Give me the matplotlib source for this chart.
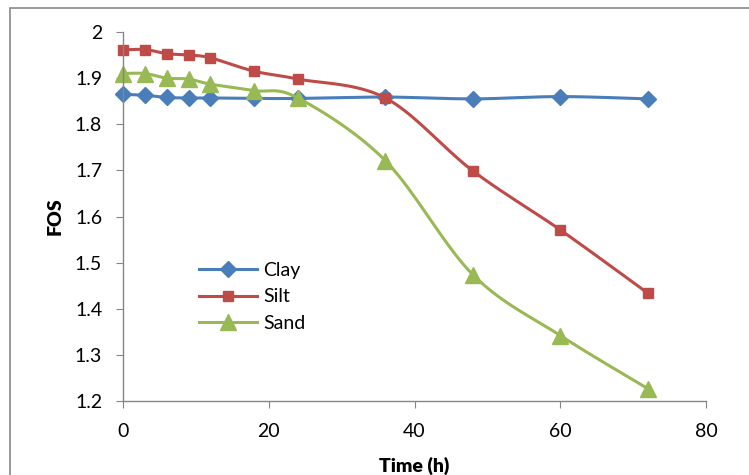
import numpy as np
import matplotlib.pyplot as plt
from matplotlib.patches import Rectangle

# FOS vs time
time_h = [0, 3, 6, 9, 12, 18, 24, 36, 48, 60, 72]
clay = [1.865, 1.863, 1.858, 1.857, 1.857, 1.856, 1.856, 1.859, 1.855, 1.860, 1.855]
silt = [1.961, 1.962, 1.953, 1.950, 1.944, 1.915, 1.898, 1.857, 1.699, 1.571, 1.434]
sand = [1.910, 1.910, 1.900, 1.898, 1.887, 1.873, 1.857, 1.721, 1.474, 1.342, 1.227]

plt.rcParams['font.family'] = ['Lato', 'DejaVu Sans']

XLIM = (0, 80)
YLIM = (1.2, 2.0)


def smooth(x, y, n=20):
    # excel-like smoothed line: catmull-rom in axis-normalised space
    sx = (XLIM[1] - XLIM[0]) / 583.0
    sy = (YLIM[1] - YLIM[0]) / 369.0
    p = np.column_stack([np.asarray(x) / sx, np.asarray(y) / sy])
    p = np.vstack([p[0], p, p[-1]])
    out = []
    for i in range(1, len(p) - 2):
        p0, p1, p2, p3 = p[i - 1], p[i], p[i + 1], p[i + 2]
        c1 = p1 + (p2 - p0) / 6.0
        c2 = p2 - (p3 - p1) / 6.0
        t = np.linspace(0, 1, n)[:, None]
        seg = ((1 - t) ** 3) * p1 + 3 * ((1 - t) ** 2) * t * c1 + 3 * (1 - t) * t ** 2 * c2 + t ** 3 * p2
        out.append(seg if i == 1 else seg[1:])
    out = np.vstack(out)
    return out[:, 0] * sx, out[:, 1] * sy


fig = plt.figure(figsize=(7.49, 4.75), dpi=100)
ax = fig.add_axes([123 / 749, 1 - 401 / 475, 583 / 749, 369 / 475])

series = [
    ("Clay", clay, "#4A7EBB", "D", 8),
    ("Silt", silt, "#BE4B48", "s", 7),
    ("Sand", sand, "#98B954", "^", 11),
]
for name, vals, col, mk, ms in series:
    sx, sy = smooth(time_h, vals)
    ax.plot(sx, sy, color=col, lw=2.2, clip_on=False)
    ax.plot(time_h, vals, linestyle="none", marker=mk, ms=ms, color=col, clip_on=False)
    ax.plot([], [], color=col, lw=2.2, marker=mk, ms=ms, label=name)

ax.set_xlim(*XLIM)
ax.set_ylim(*YLIM)
ax.set_xticks([0, 20, 40, 60, 80])
ax.set_yticks(np.arange(1.2, 2.01, 0.1))
ax.set_yticklabels(["1.2", "1.3", "1.4", "1.5", "1.6", "1.7", "1.8", "1.9", "2"])

for s in ["top", "right"]:
    ax.spines[s].set_visible(False)
for s in ["left", "bottom"]:
    ax.spines[s].set_color("#868686")
    ax.spines[s].set_linewidth(1)
ax.tick_params(direction="out", length=5, color="#868686", labelsize=14)
ax.tick_params(axis="x", pad=11)
ax.tick_params(axis="y", pad=10)

ax.set_xlabel("Time (h)", fontsize=14, fontweight="heavy", labelpad=12)
ax.set_ylabel("FOS", fontsize=14, fontweight="heavy", labelpad=8)

leg = ax.legend(loc="upper left", bbox_to_anchor=(0.1, 0.425), frameon=False,
                fontsize=14, handlelength=3.0, labelspacing=0.5, handletextpad=0.3)

# outer chart border (cut off at right/bottom in the reference)
fig.patches.append(Rectangle((10 / 749, -0.05), 1.1, 1 - 8 / 475 + 0.05,
                             transform=fig.transFigure, fill=False,
                             edgecolor="#898989", lw=1.2))

fig.savefig("out.png", dpi=100)
